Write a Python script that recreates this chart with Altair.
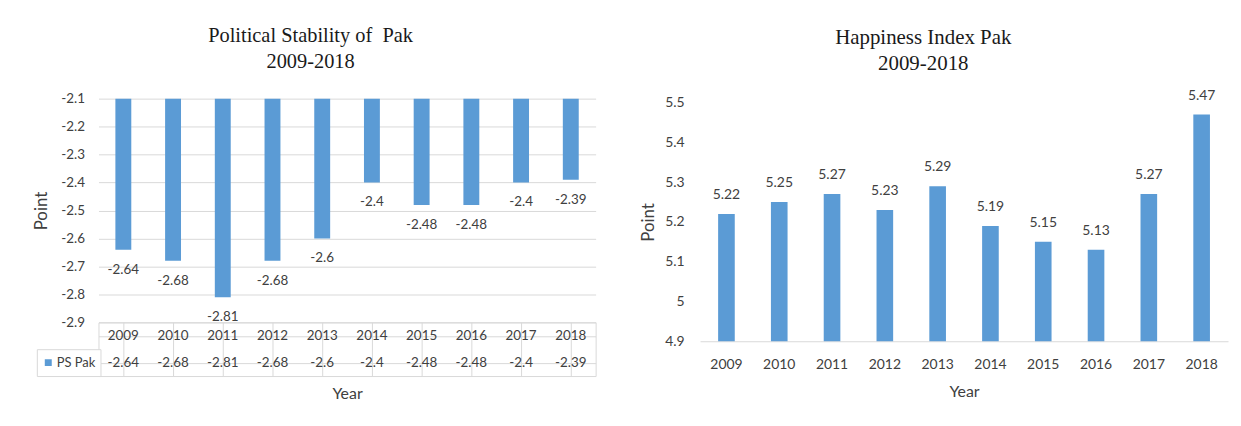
import altair as alt
import pandas as pd

# ---------------- data ----------------
years = ["2009", "2010", "2011", "2012", "2013", "2014", "2015", "2016", "2017", "2018"]
ps_values = [-2.64, -2.68, -2.81, -2.68, -2.6, -2.4, -2.48, -2.48, -2.4, -2.39]
hi_values = [5.22, 5.25, 5.27, 5.23, 5.29, 5.19, 5.15, 5.13, 5.27, 5.47]
ps_ticks = [-2.1, -2.2, -2.3, -2.4, -2.5, -2.6, -2.7, -2.8, -2.9]
hi_ticks = [4.9, 5, 5.1, 5.2, 5.3, 5.4, 5.5]
series_name = "PS Pak"
left_title = ["Political Stability of \u00a0Pak", "2009-2018"]
right_title = ["Happiness Index Pak", "2009-2018"]

# ---------------- styles ----------------
BLUE = "#5B9BD5"
FONT = "Lato"
SERIF = "Liberation Serif"
GRID = "#d9d9d9"
TXT = "#404040"

ps_df = pd.DataFrame({
    "Year": years,
    "Point": ps_values,
    "label": [str(v) for v in ps_values],
    "series": series_name,
})
hi_df = pd.DataFrame({
    "Year": years,
    "Point": hi_values,
    "label": [str(v) for v in hi_values],
})
table_df = pd.DataFrame({
    "Year": years + years,
    "row": ["year"] * len(years) + ["value"] * len(years),
    "text": years + [str(v) for v in ps_values],
})

# ---------------- left: political stability ----------------
ps_base = alt.Chart(ps_df).encode(
    x=alt.X("Year:N", scale=alt.Scale(paddingInner=0.68, paddingOuter=0.34), axis=None),
    y=alt.Y(
        "Point:Q",
        scale=alt.Scale(domain=[-2.9, -2.1], nice=False, zero=False),
        axis=alt.Axis(
            values=ps_ticks, labelExpr="toString(datum.value)", labelOverlap=False,
            labelBound=False, grid=True, gridColor=GRID, domain=False, ticks=False,
            labelPadding=14, labelFontSize=13.5, labelFont=FONT, labelColor=TXT,
            title="Point", titleFont=FONT, titleFontSize=17, titleFontWeight="normal",
            titleColor=TXT, titlePadding=10,
        ),
    ),
)
ps_bars = ps_base.mark_bar(color=BLUE).encode(y2=alt.datum(-2.1))
ps_text = ps_base.mark_text(
    dy=20, fontSize=13.5, font=FONT, color=TXT, baseline="middle"
).encode(text="label:N")
ps_top = alt.layer(ps_bars, ps_text).properties(width=500, height=225)

tbl_x = alt.X(
    "Year:N",
    scale=alt.Scale(paddingInner=0, paddingOuter=0),
    axis=alt.Axis(
        grid=True, gridColor=GRID, bandPosition=0, labels=False, ticks=False, domain=False,
        title="Year", titleFont=FONT, titleFontSize=16, titleFontWeight="normal",
        titleColor=TXT, titlePadding=10,
    ),
)
tbl_y = alt.Y(
    "row:N",
    scale=alt.Scale(domain=["year", "value"], paddingInner=0, paddingOuter=0),
    axis=alt.Axis(
        grid=True, gridColor=GRID, bandPosition=0, labels=False, ticks=False,
        domain=False, title=None,
    ),
)
tbl_text = alt.Chart(table_df).mark_text(
    fontSize=13.5, font=FONT, color=TXT, baseline="middle"
).encode(x=tbl_x, y=tbl_y, text="text:N")
tbl_legend = alt.Chart(ps_df).transform_filter("datum.series == 'none'").mark_bar().encode(
    color=alt.Color(
        "series:N",
        scale=alt.Scale(domain=[series_name], range=[BLUE]),
        legend=alt.Legend(
            orient="none", legendX=-62, legendY=252, title=None,
            symbolType="square", symbolSize=49, symbolStrokeWidth=0,
            labelFont=FONT, labelFontSize=13, labelColor=TXT, labelOffset=2,
            strokeColor=GRID, padding=5, clipHeight=17, fillColor="white",
        ),
    )
)
ps_table = alt.layer(tbl_text, tbl_legend).properties(
    width=500, height=54, view=alt.ViewBackground(stroke=GRID)
)

left = alt.vconcat(
    ps_top, ps_table, spacing=0, bounds="flush",
    title=alt.TitleParams(
        left_title, font=SERIF, fontSize=20.5, fontWeight="normal",
        color="#1a1a1a", anchor="middle", lineHeight=26, offset=19, dx=-4,
    ),
)

# ---------------- right: happiness index ----------------
hi_base = alt.Chart(hi_df).encode(
    x=alt.X(
        "Year:N",
        scale=alt.Scale(paddingInner=0.685, paddingOuter=0.3425),
        axis=alt.Axis(
            domainColor=GRID, ticks=False, labelAngle=0, labelPadding=16,
            labelFontSize=14, labelFont=FONT, labelColor=TXT,
            title="Year", titleFont=FONT, titleFontSize=16, titleFontWeight="normal",
            titleColor=TXT, titlePadding=13,
        ),
    ),
    y=alt.Y(
        "Point:Q",
        scale=alt.Scale(domain=[4.9, 5.5], nice=False, zero=False, range=[244, 4]),
        axis=alt.Axis(
            values=hi_ticks, labelExpr="toString(datum.value)", labelOverlap=False,
            labelBound=False, grid=False, domain=False, ticks=False,
            labelPadding=16, labelFontSize=14, labelFont=FONT, labelColor=TXT,
            title="Point", titleFont=FONT, titleFontSize=17, titleFontWeight="normal",
            titleColor=TXT, titlePadding=7,
        ),
    ),
)
hi_bars = hi_base.mark_bar(color=BLUE).encode(y2=alt.datum(4.9))
hi_text = hi_base.mark_text(
    dy=-19, fontSize=14, font=FONT, color=TXT, baseline="middle"
).encode(text="label:N")
right = alt.layer(hi_bars, hi_text).properties(
    width=531, height=244,
    title=alt.TitleParams(
        right_title, font=SERIF, fontSize=21, fontWeight="normal",
        color="#1a1a1a", anchor="middle", lineHeight=26, offset=15, dx=-41,
    ),
)

chart = alt.hconcat(left, right, spacing=43).properties(
    padding={"left": 25, "top": 17, "right": 5, "bottom": 5}
).configure_view(stroke=None)

chart.save("out.html", embed_options={"renderer": "svg", "actions": False})
